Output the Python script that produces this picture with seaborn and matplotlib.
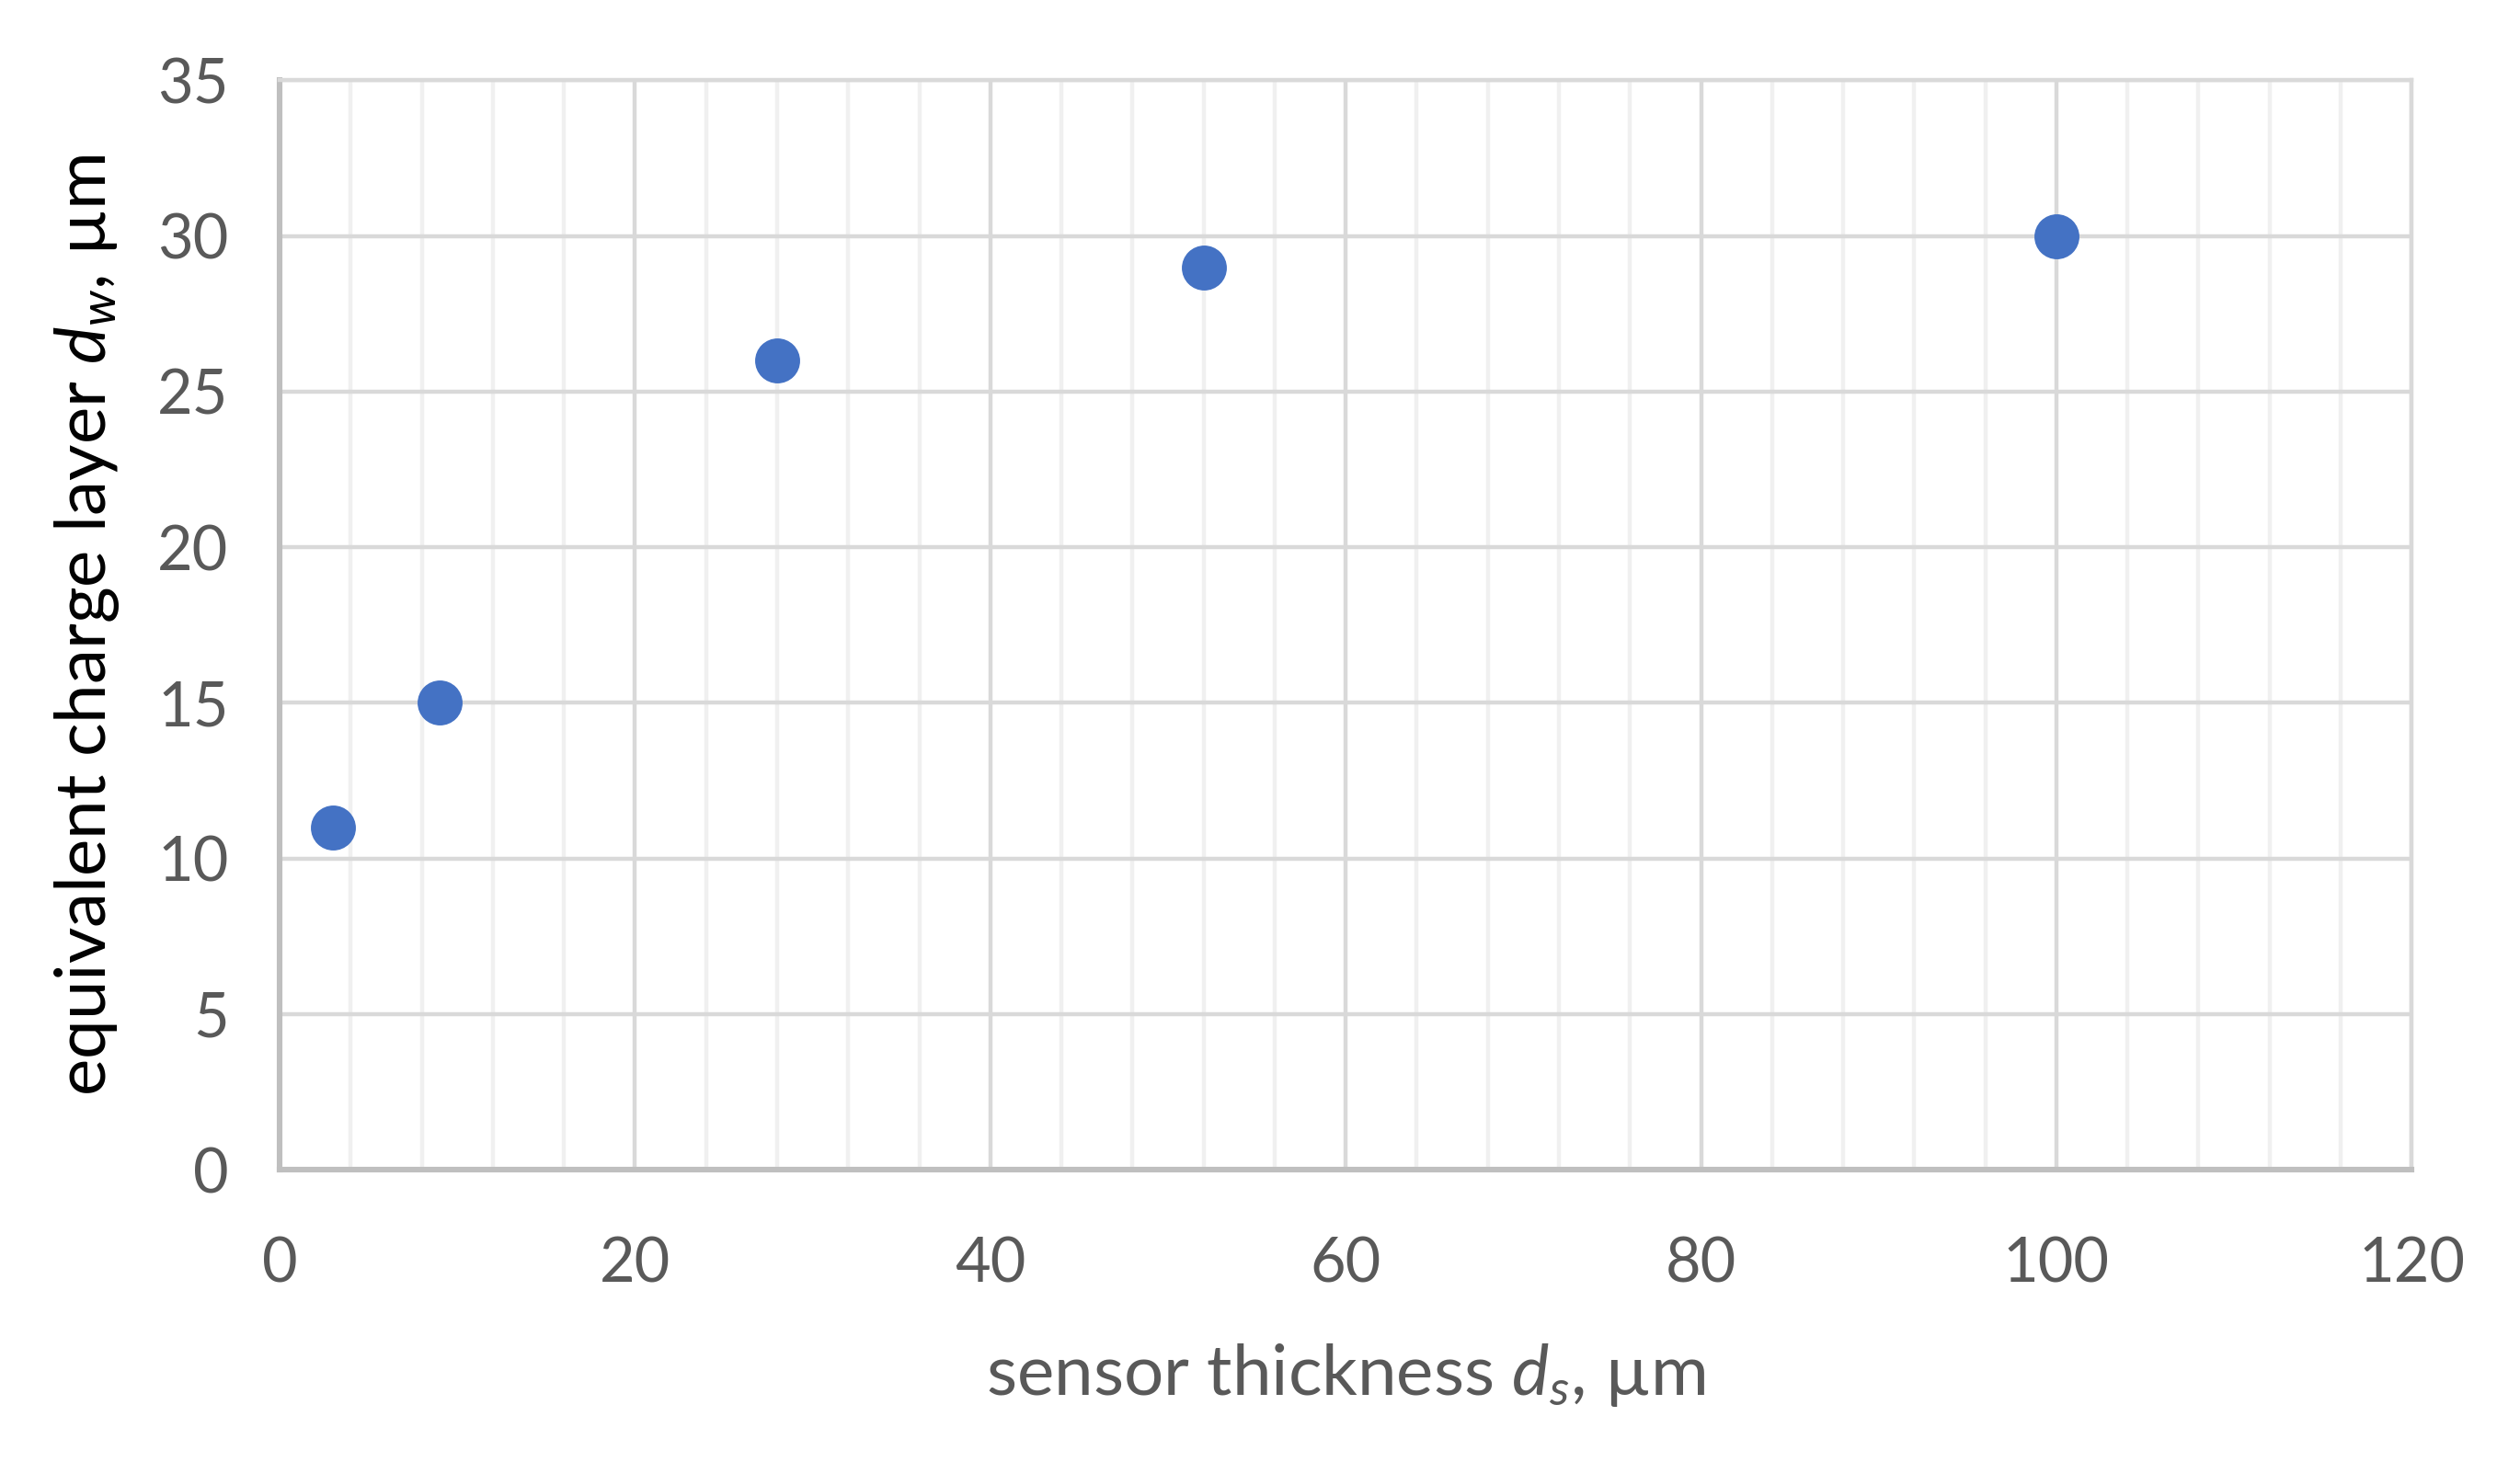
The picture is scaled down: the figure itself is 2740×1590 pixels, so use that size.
import numpy as np
import pandas as pd
import matplotlib as mpl
import matplotlib.pyplot as plt
import matplotlib.ticker as ticker
import seaborn as sns

#%% Data

sensor_thickness = [3, 9, 28, 52, 100]
charge_layer = [11, 15, 26, 29, 30]

df = pd.DataFrame({'ds': sensor_thickness, 'dw': charge_layer})

#%% Style

sns.set_style('white')
plt.rcParams['font.family'] = ['Lato', 'DejaVu Sans']
plt.rcParams['mathtext.fontset'] = 'custom'
plt.rcParams['mathtext.rm'] = 'Lato'
plt.rcParams['mathtext.it'] = 'Lato:italic'

grey_text = '#595959'

#%% Plot

fig = plt.figure(figsize=(13.7, 7.95), dpi=200)
ax = fig.add_axes([0.111, 0.2, 0.846, 0.745])

sns.scatterplot(
    x='ds',
    y='dw',
    data=df,
    ax=ax,
    color='#4472C4',
    s=310,
    edgecolor='#4472C4',
    linewidth=0,
    zorder=5,
    clip_on=False
)

ax.set_xlim(0, 120)
ax.set_ylim(0, 35)
ax.xaxis.set_major_locator(ticker.MultipleLocator(20))
ax.xaxis.set_minor_locator(ticker.MultipleLocator(4))
ax.yaxis.set_major_locator(ticker.MultipleLocator(5))

ax.grid(True, which='major', axis='both', color='#d9d9d9', linewidth=1.6)
ax.grid(True, which='minor', axis='x', color='#f0f0f0', linewidth=1.6)
ax.set_axisbelow(True)

for side in ['top', 'right']:
    ax.spines[side].set_color('#d9d9d9')
    ax.spines[side].set_linewidth(1.6)
for side in ['left', 'bottom']:
    ax.spines[side].set_color('#bfbfbf')
    ax.spines[side].set_linewidth(2.2)

ax.tick_params(axis='both', which='both', length=0, labelsize=24,
               labelcolor=grey_text)
ax.tick_params(axis='x', pad=26)
ax.tick_params(axis='y', pad=20)

ax.set_xlabel(r'sensor thickness $d_s$, µm', fontsize=27.5, color=grey_text,
              labelpad=19)
ax.set_ylabel(r'equivalent charge layer $d_w$, µm', fontsize=27.5,
              color='black', labelpad=14)

fig.savefig('out.png', dpi=200)
